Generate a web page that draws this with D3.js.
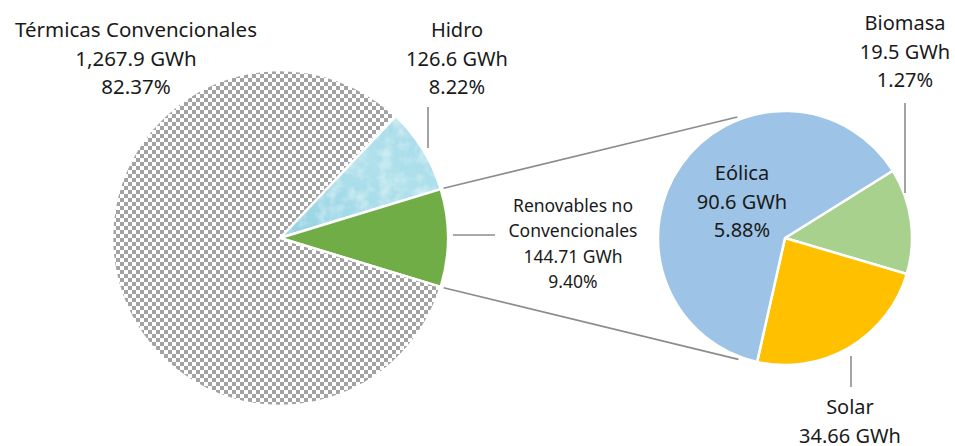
<!DOCTYPE html>
<html>
<head>
<meta charset="utf-8">
<script src="https://cdn.jsdelivr.net/npm/d3@7"></script>
<style>
    body { margin: 0; background: #fff; }
    svg text { font-family: "Noto Sans", sans-serif; fill: #1a1a1a; }
</style>
</head>
<body>
<div id="id_chart"></div>
<script>
// main pie: order is the clockwise order of the slices
var mainNames = ["Hidro", "Renovables no Convencionales", "Térmicas Convencionales"];
var mainValues = [126.6, 144.71, 1267.9];
var mainPct = ["8.22%", "9.40%", "82.37%"];
var mainKeys = ["hidro", "renov", "termo"];

// secondary pie (breakdown of renovables)
var subNames = ["Biomasa", "Solar", "Eólica"];
var subValues = [19.5, 34.66, 90.6];
var subPct = ["1.27%", "", "5.88%"];
var subKeys = ["bio", "solar", "eolica"];

var fmtGWh = function (v) {
    return d3.format(",")(v) + " GWh";
};

drawPieOfPie();

function drawPieOfPie() {
    var svgWidth = 955, svgHeight = 446;
    var mainC = {x: 280, y: 238, r: 168};
    var subC = {x: 785, y: 238, r: 127};

    var colors = {
        hidro: "url(#grad_hidro)",
        renov: "#70ad47",
        termo: "url(#pat_checker)",
        bio: "#a9d18e",
        solar: "#ffc000",
        eolica: "#9dc3e6"
    };

    var svg = d3.select("#id_chart").append("svg")
        .attr("width", svgWidth)
        .attr("height", svgHeight);

    var defs = svg.append("defs");

    // checker pattern for the thermal slice
    var pat = defs.append("pattern")
        .attr("id", "pat_checker")
        .attr("patternUnits", "userSpaceOnUse")
        .attr("width", 8).attr("height", 8);
    pat.append("rect").attr("width", 8).attr("height", 8).attr("fill", "#fff");
    pat.append("rect").attr("width", 4).attr("height", 4).attr("fill", "#a3a3a3");
    pat.append("rect").attr("x", 4).attr("y", 4).attr("width", 4).attr("height", 4).attr("fill", "#a3a3a3");

    // watery look for hidro
    var grad = defs.append("linearGradient")
        .attr("id", "grad_hidro")
        .attr("x1", "0").attr("y1", "1").attr("x2", "1").attr("y2", "0");
    grad.append("stop").attr("offset", "0").attr("stop-color", "#93d2e2");
    grad.append("stop").attr("offset", "0.6").attr("stop-color", "#b0e1ec");
    grad.append("stop").attr("offset", "1").attr("stop-color", "#a2d9e8");

    var filt = defs.append("filter").attr("id", "water");
    filt.append("feTurbulence")
        .attr("type", "fractalNoise")
        .attr("baseFrequency", "0.08")
        .attr("numOctaves", 3)
        .attr("seed", 4)
        .attr("result", "n");
    filt.append("feColorMatrix")
        .attr("in", "n")
        .attr("type", "matrix")
        .attr("values", "0 0 0 0 0.85  0 0 0 0 0.96  0 0 0 0 0.97  0 0 0 1.1 -0.45")
        .attr("result", "w");
    filt.append("feComposite")
        .attr("in", "w").attr("in2", "SourceGraphic")
        .attr("operator", "in").attr("result", "wc");
    var merge = filt.append("feMerge");
    merge.append("feMergeNode").attr("in", "SourceGraphic");
    merge.append("feMergeNode").attr("in", "wc");

    // main pie - renovables slice centred on the right horizontal
    var total = d3.sum(mainValues);
    var start = Math.PI / 2 - 2 * Math.PI * (mainValues[0] + mainValues[1] / 2) / total;

    var mainPie = d3.pie().sort(null)
        .startAngle(start).endAngle(start + 2 * Math.PI);
    var mainArcs = mainPie(mainValues);
    var mainArc = d3.arc().innerRadius(0).outerRadius(mainC.r);

    var gMain = svg.append("g")
        .attr("transform", "translate(" + mainC.x + "," + mainC.y + ")");

    gMain.selectAll("path")
        .data(mainArcs)
        .enter()
        .append("path")
        .attr("d", mainArc)
        .attr("fill", function (d, i) {
            return colors[mainKeys[i]];
        })
        .attr("filter", function (d, i) {
            return mainKeys[i] === "hidro" ? "url(#water)" : null;
        })
        .attr("stroke", "#fff")
        .attr("stroke-width", 2.5)
        .attr("stroke-linejoin", "round");

    // secondary pie
    var subStart = 58 * Math.PI / 180;
    var subPie = d3.pie().sort(null)
        .startAngle(subStart).endAngle(subStart + 2 * Math.PI);
    var subArcs = subPie(subValues);
    var subArc = d3.arc().innerRadius(0).outerRadius(subC.r);

    var gSub = svg.append("g")
        .attr("transform", "translate(" + subC.x + "," + subC.y + ")");

    gSub.selectAll("path")
        .data(subArcs)
        .enter()
        .append("path")
        .attr("d", subArc)
        .attr("fill", function (d, i) {
            return colors[subKeys[i]];
        })
        .attr("stroke", "#fff")
        .attr("stroke-width", 2.5)
        .attr("stroke-linejoin", "round");

    // connector lines between the two pies
    var renovArc = mainArcs[1];
    function onCircle(c, r, a) {
        return [c.x + Math.sin(a) * r, c.y - Math.cos(a) * r];
    }
    var connectors = [
        [onCircle(mainC, mainC.r + 3, renovArc.startAngle), onCircle(subC, subC.r + 3, -21.5 * Math.PI / 180)],
        [onCircle(mainC, mainC.r + 3, renovArc.endAngle), onCircle(subC, subC.r + 3, 201 * Math.PI / 180)]
    ];
    svg.selectAll("line.connector")
        .data(connectors)
        .enter()
        .append("line")
        .attr("class", "connector")
        .attr("x1", function (d) { return d[0][0]; })
        .attr("y1", function (d) { return d[0][1]; })
        .attr("x2", function (d) { return d[1][0]; })
        .attr("y2", function (d) { return d[1][1]; })
        .attr("stroke", "#8c8c8c")
        .attr("stroke-width", 1.6);

    // labels
    var labels = [
        {lines: ["Térmicas Convencionales", fmtGWh(mainValues[2]), mainPct[2]], x: 136, y: 37, size: 20.5, dy: 28.5},
        {lines: [mainNames[0], fmtGWh(mainValues[0]), mainPct[0]], x: 457, y: 37, size: 20, dy: 28.5},
        {lines: ["Renovables no", "Convencionales", fmtGWh(mainValues[1]), mainPct[1]], x: 573, y: 212, size: 17.5, dy: 25.3},
        {lines: [subNames[2], fmtGWh(subValues[2]), subPct[2]], x: 742, y: 180, size: 20, dy: 28.5},
        {lines: [subNames[0], fmtGWh(subValues[0]), subPct[0]], x: 905, y: 30, size: 20, dy: 28.5},
        {lines: [subNames[1], fmtGWh(subValues[1])], x: 850, y: 414, size: 20, dy: 29}
    ];

    var lab = svg.selectAll("text.lbl")
        .data(labels)
        .enter()
        .append("text")
        .attr("class", "lbl")
        .attr("text-anchor", "middle")
        .attr("font-size", function (d) { return d.size; });

    lab.selectAll("tspan")
        .data(function (d) {
            return d.lines.map(function (t, i) {
                return {t: t, x: d.x, y: d.y + i * d.dy};
            });
        })
        .enter()
        .append("tspan")
        .attr("x", function (d) { return d.x; })
        .attr("y", function (d) { return d.y; })
        .text(function (d) { return d.t; });

    // leader lines
    var leaders = [
        [428, 107, 428, 148],
        [453, 235, 495, 235],
        [905, 103, 905, 193],
        [851, 356, 851, 387]
    ];
    svg.selectAll("line.leader")
        .data(leaders)
        .enter()
        .append("line")
        .attr("class", "leader")
        .attr("x1", function (d) { return d[0]; })
        .attr("y1", function (d) { return d[1]; })
        .attr("x2", function (d) { return d[2]; })
        .attr("y2", function (d) { return d[3]; })
        .attr("stroke", "#8c8c8c")
        .attr("stroke-width", 1.6);
}
</script>
</body>
</html>
